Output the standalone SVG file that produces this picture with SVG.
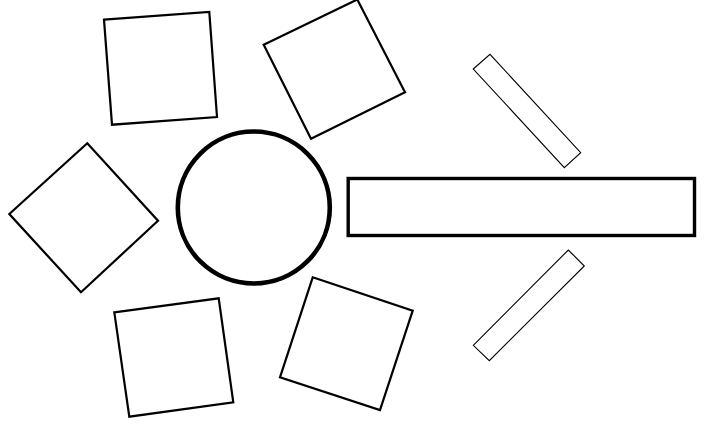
<svg xmlns="http://www.w3.org/2000/svg" width="709" height="435" viewBox="0 0 709 435">
<style>
.sq{fill:#fff;stroke:#000;stroke-width:2.2;stroke-linejoin:miter}
.thin{fill:#fff;stroke:#000;stroke-width:1.1}
.big{fill:#fff;stroke:#000;stroke-width:3.4}
.hub{fill:#fff;stroke:#000;stroke-width:4.6}
</style>
<rect width="709" height="435" fill="#fff"/>
<g id="square-top-left"><polygon class="sq" points="104,19.7 209.3,12 217,117 112,124.7"/></g>
<g id="square-top-right"><polygon class="sq" points="263.7,44.7 357.3,-0.5 405,92.3 311,138.7"/></g>
<g id="square-left"><polygon class="sq" points="9.3,214 87.3,143.3 158,220.7 81,292.3"/></g>
<g id="square-bottom-left"><polygon class="sq" points="114.3,312.3 218.7,298.3 233.3,402.3 129.3,416.7"/></g>
<g id="square-bottom-right"><polygon class="sq" points="312.7,277.3 412.7,310.7 380,410 280,377.3"/></g>
<g id="hub"><circle class="hub" cx="253.8" cy="207.5" r="76"/></g>
<g id="bar"><rect class="big" x="348.2" y="178.5" width="346.3" height="57"/></g>
<g id="slat-top"><polygon class="thin" points="473.3,69 490,54.3 580.7,152.7 564.3,167.7"/></g>
<g id="slat-bottom"><polygon class="thin" points="473.3,345.3 568.3,250 584.3,266 489.3,360.7"/></g>
<g id="connectors"></g>
</svg>
